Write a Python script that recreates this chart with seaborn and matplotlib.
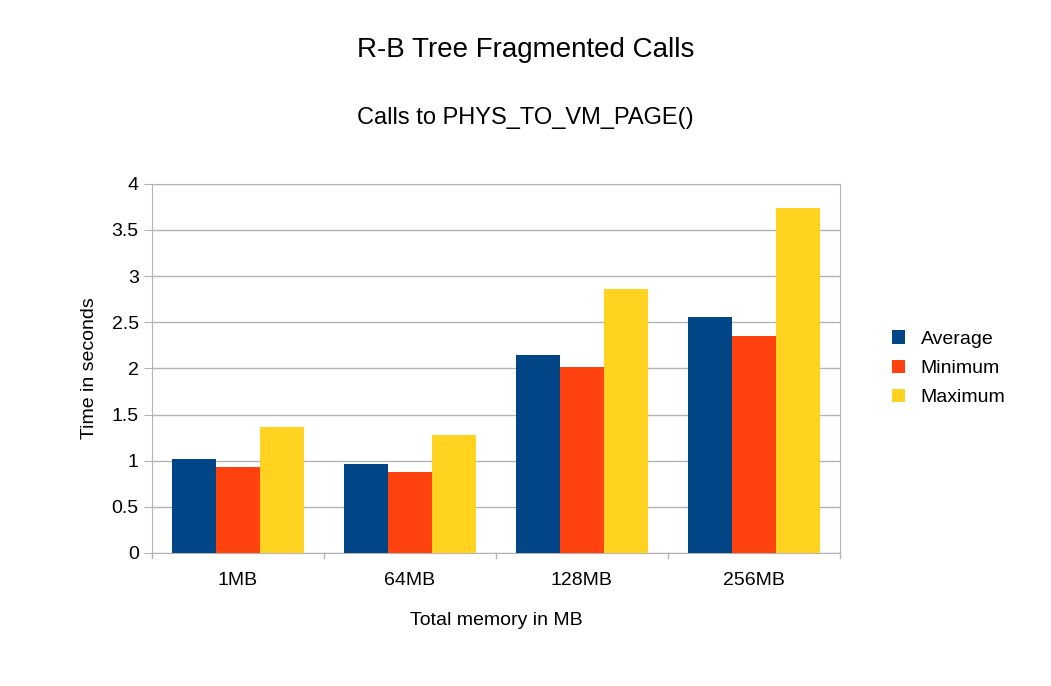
import matplotlib
matplotlib.use("Agg")
import matplotlib.pyplot as plt
import seaborn as sns
import pandas as pd

categories = ["1MB", "64MB", "128MB", "256MB"]
average = [1.02, 0.96, 2.15, 2.56]
minimum = [0.93, 0.88, 2.02, 2.35]
maximum = [1.37, 1.28, 2.86, 3.74]
series = ["Average", "Minimum", "Maximum"]
colors = ["#004586", "#ff420e", "#ffd320"]

rows = []
for name, vals in zip(series, [average, minimum, maximum]):
    for c, v in zip(categories, vals):
        rows.append({"cat": c, "series": name, "value": v})
df = pd.DataFrame(rows)

plt.rcParams["font.family"] = "Liberation Sans"
fig = plt.figure(figsize=(10.51, 6.86), dpi=100)
ax = fig.add_axes([0.1446, 0.194, 0.799 - 0.1446, 0.732 - 0.194])
sns.barplot(data=df, x="cat", y="value", hue="series", palette=colors,
            width=0.77, saturation=1, ax=ax, zorder=3)
ax.set_ylim(0, 4)
ax.set_yticks([0, 0.5, 1, 1.5, 2, 2.5, 3, 3.5, 4])
ax.set_yticklabels(["0", "0.5", "1", "1.5", "2", "2.5", "3", "3.5", "4"])
ax.grid(axis="y", color="#b3b3b3", linewidth=1, zorder=0)
for s in ax.spines.values():
    s.set_color("#b3b3b3")
ax.tick_params(axis="both", labelsize=14, color="#b3b3b3", length=6)
ax.tick_params(axis="x", length=0, pad=14)
for x in [-0.5, 0.5, 1.5, 2.5, 3.5]:
    ax.plot([x, x], [0, -0.06], color="#b3b3b3", clip_on=False, lw=1)
ax.set_xlim(-0.5, 3.5)
ax.set_xlabel("Total memory in MB", fontsize=14, labelpad=16)
ax.set_ylabel("Time in seconds", fontsize=14, labelpad=10)
ax.legend(title=None, frameon=False, fontsize=14, loc="center left",
          bbox_to_anchor=(1.05, 0.5), handlelength=0.7, handleheight=0.7,
          labelspacing=0.6)
fig.text(0.5, 1 - 50 / 686, "R-B Tree Fragmented Calls", ha="center", va="center", fontsize=20)
fig.text(0.5, 1 - 118 / 686, "Calls to PHYS_TO_VM_PAGE()", ha="center", va="center", fontsize=17)
fig.savefig("out.png", dpi=100)
